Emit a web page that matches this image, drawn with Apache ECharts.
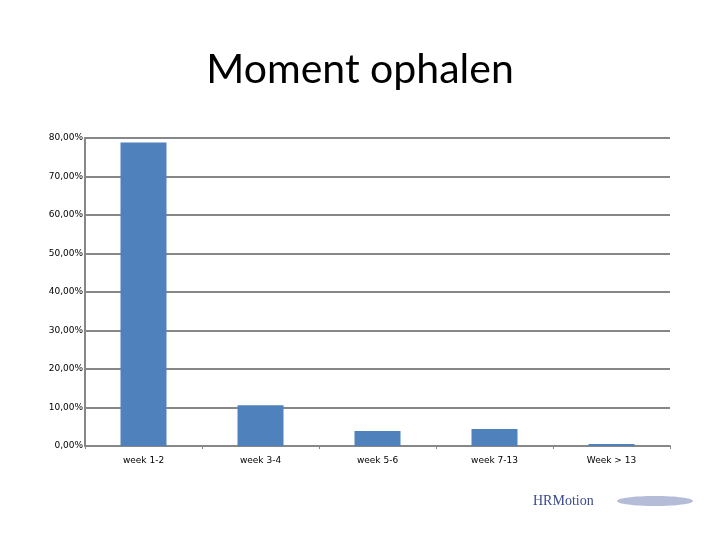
<!DOCTYPE html>
<html>
<head>
<meta charset="utf-8">
<script src="https://cdn.jsdelivr.net/npm/echarts@6/dist/echarts.min.js"></script>
<style>
  html, body { margin: 0; padding: 0; background: #fff; }
  #chart { width: 720px; height: 540px; }
</style>
</head>
<body>
<div id="chart"></div>
<script>
const categories = ['week 1-2', 'week 3-4', 'week 5-6', 'week 7-13', 'Week > 13'];
const shares = [78.8, 10.6, 3.9, 4.4, 0.5];
const yTicks = [0, 10, 20, 30, 40, 50, 60, 70, 80];

const chart = echarts.init(document.getElementById('chart'));
const gridColor = '#878787';

chart.setOption({
  animation: false,
  title: {
    text: 'Moment ophalen',
    left: 'center',
    top: 44,
    textStyle: { fontFamily: 'Lato', fontWeight: 'normal', fontSize: 41, color: '#000' }
  },
  grid: { left: 85, right: 50, top: 138, bottom: 94 },
  xAxis: {
    type: 'category',
    data: categories,
    axisLine: { lineStyle: { color: gridColor, width: 2 } },
    axisTick: { show: true, length: 3, lineStyle: { color: gridColor } },
    axisLabel: { color: '#000', fontSize: 9, fontFamily: 'DejaVu Sans', margin: 10 }
  },
  yAxis: {
    type: 'value',
    min: yTicks[0],
    max: yTicks[yTicks.length - 1],
    interval: 10,
    axisLine: { show: true, lineStyle: { color: gridColor, width: 2 } },
    axisTick: { show: false },
    splitLine: { lineStyle: { color: gridColor, width: 2 } },
    axisLabel: {
      color: '#000', fontSize: 9, fontFamily: 'DejaVu Sans', margin: 2,
      formatter: v => v.toFixed(2).replace('.', ',') + '%'
    }
  },
  series: [{
    type: 'bar',
    data: shares,
    barWidth: 46,
    itemStyle: { color: '#4f81bd' }
  }],
  graphic: [
    {
      type: 'ellipse',
      shape: { cx: 655, cy: 501, rx: 38, ry: 5 },
      style: { fill: '#b4bcd8' }
    },
    {
      type: 'text',
      left: 533, top: 494,
      style: { text: 'HRMotion', font: '14px "Liberation Serif"', fill: '#3b4a8c' }
    }
  ]
});
</script>
</body>
</html>
